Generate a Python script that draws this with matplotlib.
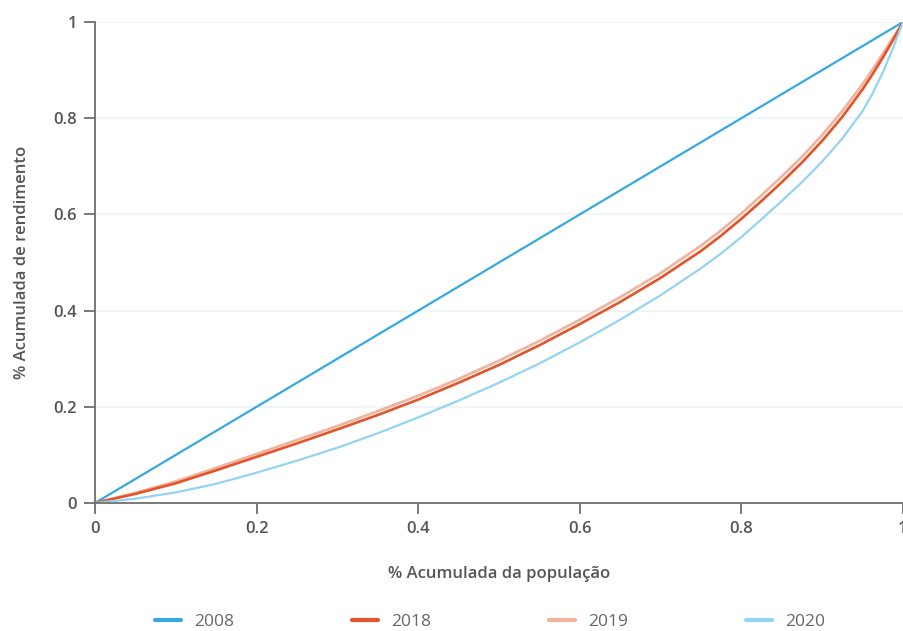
import matplotlib
matplotlib.use("Agg")
import matplotlib.pyplot as plt
from matplotlib.ticker import FuncFormatter

plt.rcParams['font.family'] = ['Open Sans', 'DejaVu Sans']

pop = [0, 0.05, 0.1, 0.15, 0.2, 0.25, 0.3, 0.35, 0.4, 0.45, 0.5, 0.55,
       0.6, 0.65, 0.7, 0.75, 0.775, 0.8, 0.825, 0.85, 0.875, 0.9, 0.925,
       0.95, 0.9625, 0.975, 0.9875, 1]
pop_2008 = [0, 1]
y2008 = [0, 1]
y2018 = [0, 0.019, 0.041, 0.068, 0.096, 0.124, 0.153, 0.183, 0.215, 0.250, 0.287, 0.328,
         0.372, 0.418, 0.468, 0.524, 0.556, 0.591, 0.628, 0.667, 0.708, 0.753, 0.803,
         0.860, 0.892, 0.926, 0.962, 1]
y2019 = [0, 0.021, 0.045, 0.073, 0.102, 0.131, 0.160, 0.191, 0.223, 0.258, 0.296, 0.337,
         0.381, 0.428, 0.478, 0.535, 0.567, 0.602, 0.640, 0.679, 0.720, 0.765, 0.815,
         0.871, 0.902, 0.934, 0.967, 1]
y2020 = [0, 0.009, 0.022, 0.040, 0.063, 0.088, 0.115, 0.145, 0.178, 0.213, 0.250, 0.290,
         0.334, 0.381, 0.432, 0.488, 0.519, 0.553, 0.590, 0.628, 0.667, 0.710, 0.758,
         0.815, 0.852, 0.895, 0.945, 1]
ticks = [0, 0.2, 0.4, 0.6, 0.8, 1]

fig = plt.figure(figsize=(9.04, 6.31), dpi=100)
ax = fig.add_axes([95/904, 1-503/631, 808/904, 481/631])

kw = dict(solid_joinstyle='round', solid_capstyle='round')
ax.plot(pop_2008, y2008, color='#35a9e0', lw=1.6, label='2008', **kw)
ax.plot(pop, y2018, color='#e4532a', lw=1.9, label='2018', **kw)
ax.plot(pop, y2019, color='#f3b29c', lw=1.9, label='2019', zorder=1.9, **kw)
ax.plot(pop, y2020, color='#95d3f2', lw=1.6, label='2020', **kw)

ax.set_xlim(0, 1)
ax.set_ylim(0, 1)
ax.set_xticks(ticks)
ax.set_yticks(ticks)
fmt = FuncFormatter(lambda v, p: '%g' % v)
ax.xaxis.set_major_formatter(fmt)
ax.yaxis.set_major_formatter(fmt)
ax.grid(axis='y', color='#eef3f8', lw=1.2)
ax.set_axisbelow(True)
for s in ['top', 'right']:
    ax.spines[s].set_visible(False)
for s in ['left', 'bottom']:
    ax.spines[s].set_color('#6e6e6e')
    ax.spines[s].set_linewidth(1.3)
ax.tick_params(axis='both', length=8, width=1.3, color='#6e6e6e',
               labelcolor='#555555', labelsize=12, pad=5)
for lab in ax.get_xticklabels() + ax.get_yticklabels():
    lab.set_fontweight('semibold')

ax.set_xlabel('% Acumulada da população', fontsize=12, fontweight='semibold',
              color='#555555', labelpad=21)
ax.set_ylabel('% Acumulada de rendimento', fontsize=12, fontweight='semibold',
              color='#555555', labelpad=17)
for sp in ax.spines.values():
    sp.set_clip_on(False)

leg = fig.legend(loc='center', bbox_to_anchor=(0.542, 1-622/631), ncol=4, frameon=False,
                 fontsize=12.5, handlelength=1.5, handletextpad=0.75, columnspacing=6.8,
                 labelcolor='#666666')
for line in leg.get_lines():
    line.set_linewidth(3)

fig.savefig('out.png', dpi=100)
